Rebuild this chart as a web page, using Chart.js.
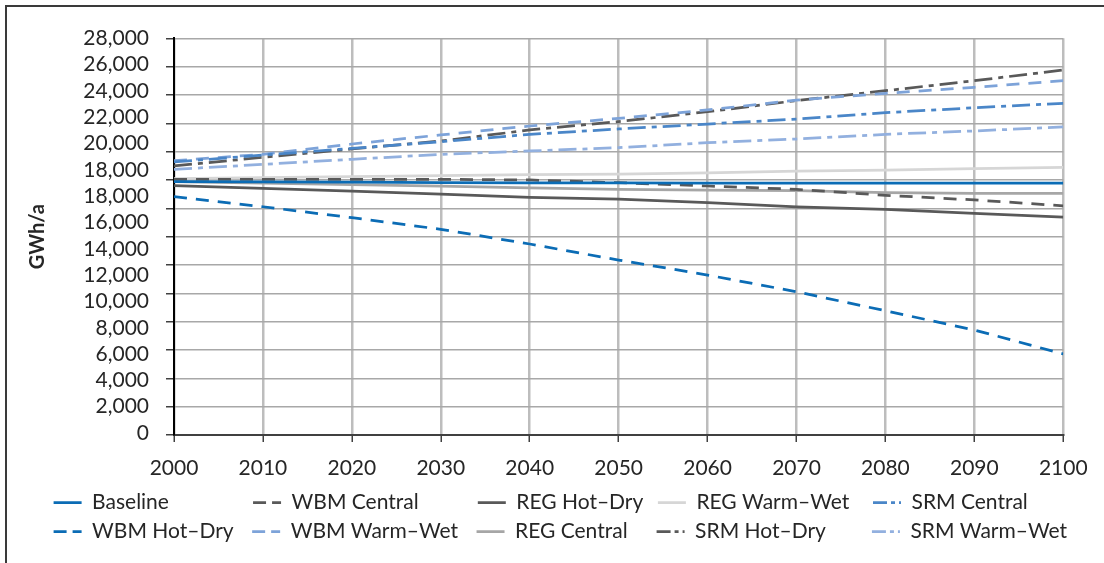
<!DOCTYPE html>
<html><head><meta charset="utf-8">
<script src="https://cdn.jsdelivr.net/npm/chart.js@4.4.1/dist/chart.umd.min.js"></script>
<style>
html,body{margin:0;padding:0;background:#fff;}
#frame{position:absolute;left:5px;top:5px;width:1099px;height:558px;border-left:2px solid #3a3a3a;border-top:2px solid #3a3a3a;box-sizing:border-box;}
#wrap{position:absolute;left:0;top:0;width:1104px;height:563px;}
</style></head><body>
<div id="frame"></div>
<div id="wrap"><canvas id="c" width="1104" height="563"></canvas></div>
<script>
const years = [2000, 2010, 2020, 2030, 2040, 2050, 2060, 2070, 2080, 2090, 2100];
const yTickLabels = ['0','2,000','4,000','6,000','8,000','10,000','12,000','14,000','16,000','18,000','18,000','20,000','22,000','24,000','26,000','28,000'];

const baseline    = [17880, 17860, 17840, 17820, 17800, 17790, 17780, 17770, 17770, 17770, 17770];
const wbmCentral  = [18050, 18050, 18050, 18050, 18000, 17810, 17575, 17340, 16920, 16590, 16180];
const regHotDry   = [17600, 17410, 17220, 17010, 16780, 16640, 16400, 16110, 15930, 15650, 15370];
const regWarmWet  = [18090, 18170, 18240, 18310, 18380, 18420, 18510, 18630, 18700, 18800, 18890];
const srmCentral  = [19270, 19760, 20230, 20700, 21220, 21600, 21950, 22300, 22750, 23100, 23410];
const wbmHotDry   = [16820, 16110, 15340, 14520, 13480, 12350, 11290, 10110, 8770, 7410, 5720];
const wbmWarmWet  = [19360, 19810, 20540, 21180, 21810, 22350, 22940, 23640, 24120, 24540, 25010];
const regCentral  = [17880, 17780, 17680, 17560, 17440, 17340, 17290, 17245, 17100, 17060, 17050];
const srmHotDry   = [18990, 19600, 20190, 20750, 21530, 22120, 22820, 23600, 24300, 25010, 25760];
const srmWarmWet  = [18750, 19100, 19460, 19810, 20050, 20280, 20630, 20890, 21220, 21460, 21740];

const seriesNames = ['Baseline','WBM Central','REG Hot–Dry','REG Warm–Wet','SRM Central','WBM Hot–Dry','WBM Warm–Wet','REG Central','SRM Hot–Dry','SRM Warm–Wet'];
const seriesValues = [baseline, wbmCentral, regHotDry, regWarmWet, srmCentral, wbmHotDry, wbmWarmWet, regCentral, srmHotDry, srmWarmWet];

const DASH = [13, 9];
const DASHDOT = [18, 6, 5, 6];
const LEGEND_DASH = [13, 6];
const LEGEND_DASHDOT = [14, 4, 4, 4];
const styles = [
  {c:'#0b6cb5', d:[], ld:[]},
  {c:'#595959', d:DASH, ld:LEGEND_DASH},
  {c:'#595959', d:[], ld:[]},
  {c:'#d6d6d6', d:[], ld:[]},
  {c:'#4a86c8', d:DASHDOT, ld:LEGEND_DASHDOT},
  {c:'#0b6cb5', d:DASH, ld:LEGEND_DASH},
  {c:'#7da3d9', d:DASH, ld:LEGEND_DASH},
  {c:'#a6a6a6', d:[], ld:[]},
  {c:'#595959', d:DASHDOT, ld:LEGEND_DASHDOT},
  {c:'#92b0df', d:DASHDOT, ld:LEGEND_DASHDOT}
];

const datasets = seriesNames.map((name, i) => ({
  label: name,
  data: years.map((x, j) => ({x: x, y: seriesValues[i][j]})),
  borderColor: styles[i].c,
  backgroundColor: styles[i].c,
  borderDash: styles[i].d,
  borderWidth: 2.75,
  pointRadius: 0,
  tension: 0,
  xAxisID: 'x',
  yAxisID: 'y'
}));

const FS = 21;
Chart.defaults.font.family = 'Lato';
Chart.defaults.font.size = FS;
Chart.defaults.color = '#262626';

const mctx = document.createElement('canvas').getContext('2d');
mctx.font = FS + 'px Lato';
const colTextWidths = [152.5, 178.3, 133.8, 168.5];
function padLabel(text, col) {
  if (col >= colTextWidths.length) return text;
  const target = colTextWidths[col];
  let pad = '\u200A';
  if (mctx.measureText('a' + pad).width - mctx.measureText('a').width < 0.3) pad = '\u00A0';
  let t = text, n = 0;
  while (mctx.measureText(t).width < target - 0.5 && n < 300) { t += pad; n++; }
  return t;
}

new Chart(document.getElementById('c'), {
  type: 'line',
  data: { datasets: datasets },
  options: {
    responsive: false,
    animation: false,
    devicePixelRatio: 1,
    layout: { padding: { left: 45.6, right: 0, top: 38.3, bottom: 11 } },
    plugins: {
      tooltip: { enabled: false },
      legend: {
        position: 'bottom',
        align: 'start',
        labels: {
          usePointStyle: true,
          pointStyle: 'line',
          pointStyleWidth: 28,
          padding: 8,
          font: { size: FS },
          color: '#262626',
          generateLabels: (chart) => {
            const items = Chart.defaults.plugins.legend.labels.generateLabels(chart);
            items.forEach((it, i) => {
              const ds = chart.data.datasets[it.datasetIndex];
              it.text = padLabel(it.text, i % 5);
              it.lineDash = styles[it.datasetIndex].ld;
              it.lineWidth = ds.borderWidth;
              it.strokeStyle = ds.borderColor;
              it.fillStyle = ds.borderColor;
            });
            return items;
          }
        }
      }
    },
    scales: {
      x: {
        type: 'linear',
        position: 'bottom',
        min: 2000, max: 2100,
        ticks: { stepSize: 10, padding: 14, color: '#262626', font: { size: FS }, callback: v => String(v), maxRotation: 0, autoSkip: false },
        grid: { color: '#bdbdbd', lineWidth: 2.5, tickLength: 7, tickColor: '#404040', tickWidth: 1.5 },
        border: { display: true, color: '#404040', width: 2 },
        afterFit: s => { s.height = 49; }
      },
      y: {
        type: 'linear',
        position: 'left',
        weight: 0,
        min: 0, max: 28000,
        ticks: { display: false, stepSize: 2000, autoSkip: false },
        grid: { color: '#a8a8a8', lineWidth: 1.5, tickLength: 8, tickColor: '#404040', tickWidth: 1.5 },
        border: { display: true, color: '#000000', width: 2 }
      },
      yLabels: {
        type: 'linear',
        position: 'left',
        weight: 1,
        min: -0.076, max: 15,
        afterBuildTicks: s => { s.ticks = yTickLabels.map((_, i) => ({ value: i })); },
        ticks: { padding: 17, color: '#262626', font: { size: FS }, autoSkip: false, callback: (v, i) => yTickLabels[i] },
        grid: { display: false, drawTicks: false },
        border: { display: false },
        title: { display: true, text: 'GWh/a', color: '#262626', font: { size: 20, weight: 'bold' }, padding: { top: -19.6, bottom: 0 } },
        afterFit: s => { s.width = 120.4; }
      },
      yPad: {
        type: 'linear',
        position: 'right',
        ticks: { display: false },
        grid: { display: false, drawTicks: false },
        border: { display: false },
        afterFit: s => { s.width = 40.7; }
      }
    }
  }
});
</script>
</body></html>
